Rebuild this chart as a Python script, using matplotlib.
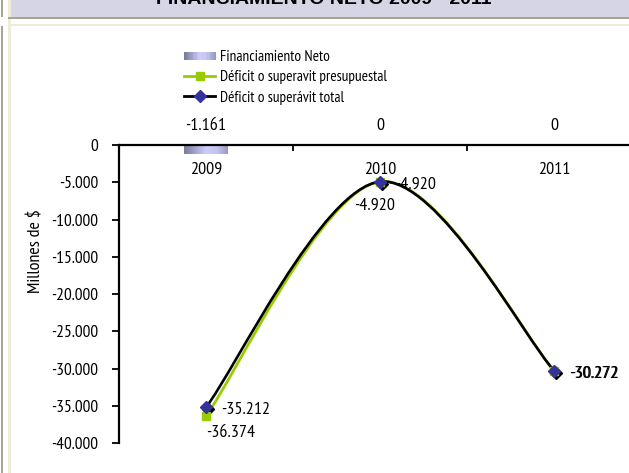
import numpy as np
import matplotlib
matplotlib.use('Agg')
import matplotlib.pyplot as plt
import matplotlib.transforms as mtrans
from matplotlib import font_manager as fm
from matplotlib.patches import Rectangle, PathPatch
from matplotlib.path import Path
from matplotlib.lines import Line2D
from matplotlib.colors import LinearSegmentedColormap
from matplotlib.legend_handler import HandlerBase
from matplotlib.ticker import FuncFormatter, FixedLocator

# pick a narrow font (Arial Narrow look-alike) if one is installed
have = {f.name for f in fm.fontManager.ttflist}
narrow = ['Liberation Sans Narrow', 'Arial Narrow', 'Nimbus Sans Narrow', 'PT Sans Narrow',
          'Roboto Condensed', 'Archivo Narrow', 'DejaVu Sans']
font = [f for f in narrow if f in have][0]
plt.rcParams['font.family'] = [font, 'DejaVu Sans']

# data
years = ['2009', '2010', '2011']
fin_neto = [-1161, 0, 0]
def_presup = [-36374, -4920, -30272]
def_total = [-35212, -4920, -30272]

W, H = 629, 473
fig = plt.figure(figsize=(W / 100, H / 100), dpi=100)

def fx(x):
    return x / W

def fy(y):
    return 1 - y / H

def frect(x0, y0, x1, y1, color):
    fig.add_artist(Rectangle((fx(x0), fy(y1)), fx(x1) - fx(x0), fy(y0) - fy(y1),
                             transform=fig.transFigure, facecolor=color,
                             edgecolor='none', zorder=0))

# frame decorations (spreadsheet-like header)
frect(11, -2, 629, 17.5, '#d5d5e5')
frect(8, 17.5, 629, 19.5, '#a9a593')
frect(11, 24, 629, 26, '#eeebd9')
frect(1, -2, 2.7, 17.5, '#a9a593')
frect(1, 26, 2.7, 475, '#a9a593')
frect(8, -2, 11, 17.5, '#eeebd9')
frect(8, 19.5, 11, 475, '#eeebd9')

fig.text(fx(324), fy(4), 'FINANCIAMIENTO NETO 2009 - 2011', ha='center', va='baseline',
         fontsize=14, fontweight='bold', family=['Liberation Sans', 'DejaVu Sans'])

ax_left, ax_right, ax_top, ax_bot = 119, 641, 145, 443
ax = fig.add_axes([fx(ax_left), fy(ax_bot), fx(ax_right - ax_left), fy(ax_top) - fy(ax_bot)])

x = np.arange(len(years))

grad_cmap = LinearSegmentedColormap.from_list(
    'fin', ['#7a7a9c', '#a4a4cc', '#cdcdfa', '#c4c4f2', '#9a9ac4'])

# gradient bars
bw = 0.25
for xi, v in zip(x, fin_neto):
    if v == 0:
        continue
    grad = np.linspace(0, 1, 64).reshape(1, -1)
    ax.imshow(grad, extent=[xi - bw / 2, xi + bw / 2, v, 0], aspect='auto',
              cmap=grad_cmap, zorder=2, interpolation='bilinear')


def smooth_path(xs, ys):
    # smoothed line through the points (bezier segments)
    pts = np.column_stack([xs, ys]).astype(float)
    n = len(pts)
    verts = [pts[0]]
    codes = [Path.MOVETO]
    for i in range(n - 1):
        p0 = pts[max(i - 1, 0)]
        p1 = pts[i]
        p2 = pts[i + 1]
        p3 = pts[min(i + 2, n - 1)]
        verts += [p1 + (p2 - p0) / 6, p2 - (p3 - p1) / 6, p2]
        codes += [Path.CURVE4] * 3
    return Path(verts, codes)


green = '#99cc00'
navy = '#333399'

ax.add_patch(PathPatch(smooth_path(x, def_presup), facecolor='none', edgecolor=green,
                       lw=2.0, zorder=3, capstyle='round'))
ax.add_patch(PathPatch(smooth_path(x, def_total), facecolor='none', edgecolor='black',
                       lw=1.9, zorder=4, capstyle='round'))

shadow = mtrans.offset_copy(ax.transData, fig=fig, x=1.5, y=-2.0, units='dots')
ax.plot(x, def_total, ls='none', marker='D', ms=6.5, color='black', zorder=4.5, transform=shadow)
ax.plot(x, def_presup, ls='none', marker='s', ms=5.5, color=green, zorder=5)
ax.plot(x, def_total, ls='none', marker='D', ms=6.5, color=navy, zorder=6)

fmt = lambda v: f'{v:,.0f}'.replace(',', '.')

lab_fs = 13
tick_fs = 12.5
# bar labels (above the axis line)
for xi, v in zip(x, fin_neto):
    ax.annotate(fmt(v), (xi, 0), xytext=(0, 19), textcoords='offset pixels',
                ha='center', va='center', fontsize=lab_fs, annotation_clip=False)

# total series labels to the right
for xi, v in zip(x, def_total):
    ax.annotate(fmt(v), (xi, v), xytext=(15, -3), textcoords='offset pixels',
                ha='left', va='center', fontsize=lab_fs)

# presupuestal labels
presup_off = [(0, -17, 'left'), (-5, -24, 'center'), (15.7, -3, 'left')]
for xi, v, (dx, dy, ha) in zip(x, def_presup, presup_off):
    ax.annotate(fmt(v), (xi, v), xytext=(dx, dy), textcoords='offset pixels',
                ha=ha, va='center', fontsize=lab_fs)

ax.set_xlim(-0.5, 2.5)
ax.set_ylim(-40000, 0)

for s in ['top', 'right']:
    ax.spines[s].set_visible(False)
ax.spines['bottom'].set_position(('data', 0))
ax.spines['bottom'].set_linewidth(1.6)
ax.spines['left'].set_linewidth(1.6)

ax.set_xticks(x)
ax.set_xticklabels(years, fontsize=lab_fs)
ax.xaxis.set_minor_locator(FixedLocator([0.5, 1.5]))
ax.tick_params(axis='x', which='major', length=0, pad=12)
ax.tick_params(axis='x', which='minor', length=4, width=1.3, direction='out')

ax.set_yticks(np.arange(-40000, 1, 5000))
ax.yaxis.set_major_formatter(FuncFormatter(lambda v, p: fmt(v)))
ax.tick_params(axis='y', length=5, width=1.3, pad=10, labelsize=tick_fs)

fig.text(fx(37), fy(251), 'Millones de $', rotation=90, ha='center', va='center',
         fontsize=13)


class GradHandler(HandlerBase):
    def create_artists(self, legend, orig_handle, xdescent, ydescent, width, height,
                       fontsize, trans):
        n = 24
        hh = height * 0.75
        y0 = -ydescent + (height - hh) / 2
        arts = []
        for i in range(n):
            r = Rectangle((-xdescent + i * width / n, y0), width / n + 0.3, hh,
                          facecolor=grad_cmap(i / (n - 1)), edgecolor='none',
                          transform=trans)
            arts.append(r)
        return arts


proxy_bar = Rectangle((0, 0), 1, 1)
h_pres = Line2D([], [], color=green, lw=2.0, marker='s', ms=5.5)
h_tot = Line2D([], [], color='black', lw=2.0, marker='D', ms=6.5, mfc=navy, mec=navy)
fig.legend([proxy_bar, h_pres, h_tot],
           ['Financiamiento Neto', 'Déficit o superavit presupuestal', 'Déficit o superávit total'],
           handler_map={proxy_bar: GradHandler()},
           loc='upper left', bbox_to_anchor=(fx(184), fy(50)), frameon=False,
           fontsize=11, borderpad=0, borderaxespad=0, handlelength=2.05,
           handletextpad=0.3, labelspacing=0.42)

fig.savefig('out.png', dpi=100)
